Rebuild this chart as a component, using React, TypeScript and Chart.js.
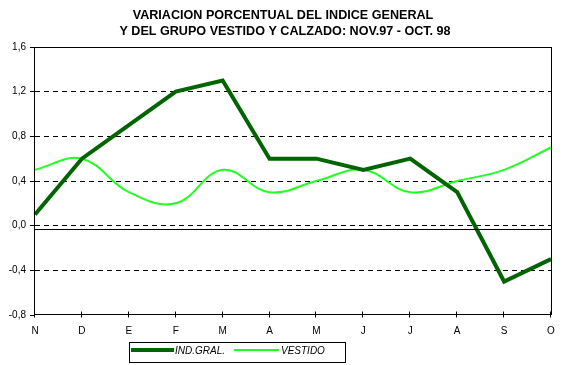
import React, { useEffect, useRef } from "react";
import { Chart, registerables } from "chart.js";

Chart.register(...registerables);

const months = ["N", "D", "E", "F", "M", "A", "M", "J", "J", "A", "S", "O"];
const indGral = [0.1, 0.6, 0.9, 1.2, 1.3, 0.6, 0.6, 0.5, 0.6, 0.3, -0.5, -0.3];
const vestido = [0.5, 0.6, 0.3, 0.2, 0.5, 0.3, 0.4, 0.5, 0.3, 0.4, 0.5, 0.7];
const titleLines = [
  "VARIACION PORCENTUAL DEL INDICE GENERAL",
  "Y DEL GRUPO VESTIDO Y CALZADO: NOV.97 - OCT. 98",
];
const seriesNames = ["IND.GRAL.", "VESTIDO"];
const DARK = "#006400";
const LIGHT = "#22ff22";

const framePlugin = {
  id: "frame",
  afterDraw(chart: any) {
    const { ctx, chartArea } = chart;
    const { left, right, top, bottom } = chartArea;
    const xs = chart.scales.x;
    const ys = chart.scales.y;
    ctx.save();
    ctx.strokeStyle = "#000";
    ctx.lineWidth = 1;
    ctx.setLineDash([]);
    // plot border
    ctx.strokeRect(Math.round(left) - 0.5, Math.round(top) + 0.5, Math.round(right - left) + 1, Math.round(bottom - top) - 1);
    // zero axis line
    const y0 = Math.round(ys.getPixelForValue(0)) + 3.5;
    ctx.beginPath();
    ctx.moveTo(left, y0);
    ctx.lineTo(right, y0);
    ctx.stroke();
    // x ticks crossing the bottom line
    const yb = Math.round(bottom) - 0.5;
    for (let i = 0; i < months.length; i++) {
      const x = Math.round(xs.getPixelForTick(i)) - 0.5;
      ctx.beginPath();
      ctx.moveTo(x, yb - 3);
      ctx.lineTo(x, yb + 3);
      ctx.stroke();
    }
    // title
    ctx.fillStyle = "#000";
    ctx.font = "bold 12.6px 'Liberation Sans', Arial, sans-serif";
    ctx.textAlign = "center";
    ctx.textBaseline = "middle";
    ctx.fillText(titleLines[0], 283, 16);
    ctx.fillText(titleLines[1], 285, 32);
    // legend
    ctx.strokeRect(129.5, 342.5, 216, 20);
    ctx.lineWidth = 4;
    ctx.strokeStyle = DARK;
    ctx.beginPath();
    ctx.moveTo(131, 350);
    ctx.lineTo(174, 350);
    ctx.stroke();
    ctx.lineWidth = 2;
    ctx.strokeStyle = LIGHT;
    ctx.beginPath();
    ctx.moveTo(234, 350);
    ctx.lineTo(279, 350);
    ctx.stroke();
    ctx.font = "italic 10px 'Liberation Sans', Arial, sans-serif";
    ctx.textAlign = "left";
    ctx.fillStyle = "#000";
    ctx.fillText(seriesNames[0], 175, 351);
    ctx.fillText(seriesNames[1], 281, 351);
    ctx.restore();
  },
};

export default function App() {
  const ref = useRef<HTMLCanvasElement | null>(null);
  useEffect(() => {
    if (!ref.current) return;
    const chart = new Chart(ref.current, {
      type: "line",
      data: {
        labels: months,
        datasets: [
          {
            label: seriesNames[0],
            data: indGral,
            borderColor: DARK,
            backgroundColor: DARK,
            borderWidth: 4,
            pointRadius: 0,
            tension: 0,
          },
          {
            label: seriesNames[1],
            data: vestido,
            borderColor: LIGHT,
            backgroundColor: LIGHT,
            borderWidth: 2,
            pointRadius: 0,
            tension: 0.4,
          },
        ],
      },
      options: {
        responsive: false,
        animation: false,
        layout: { padding: { top: 47, right: 12, left: 0, bottom: 0 } },
        plugins: {
          legend: { display: false },
          title: { display: false },
          tooltip: { enabled: false },
        },
        scales: {
          x: {
            type: "category",
            offset: false,
            grid: { display: false },
            border: { display: false },
            ticks: {
              color: "#000",
              font: { family: "'Liberation Sans', Arial, sans-serif", size: 10 },
              padding: 2,
              maxRotation: 0,
              autoSkip: false,
            },
            afterFit(scale: any) {
              scale.height = 50;
            },
          },
          y: {
            min: -0.8,
            max: 1.6,
            ticks: {
              stepSize: 0.4,
              color: "#000",
              font: { family: "'Liberation Sans', Arial, sans-serif", size: 10 },
              padding: 4,
              callback: (v: any) => Number(v).toFixed(1).replace(".", ","),
            },
            grid: {
              color: (c: any) => {
                const v = c.tick ? c.tick.value : 0;
                return Math.abs(v - 1.6) < 1e-6 || Math.abs(v + 0.8) < 1e-6 ? "rgba(0,0,0,0)" : "#000";
              },
              tickColor: "#000",
              tickLength: 5,
              tickBorderDash: [],
              lineWidth: 1,
            },
            border: { display: false, dash: [5, 4] },
            afterFit(scale: any) {
              scale.width = 35;
            },
          },
        },
      },
      plugins: [framePlugin],
    });
    return () => chart.destroy();
  }, []);
  return (
    <div style={{ position: "absolute", left: 0, top: 0, width: 563, height: 365, background: "#fff" }}>
      <canvas ref={ref} width={563} height={365} />
    </div>
  );
}
